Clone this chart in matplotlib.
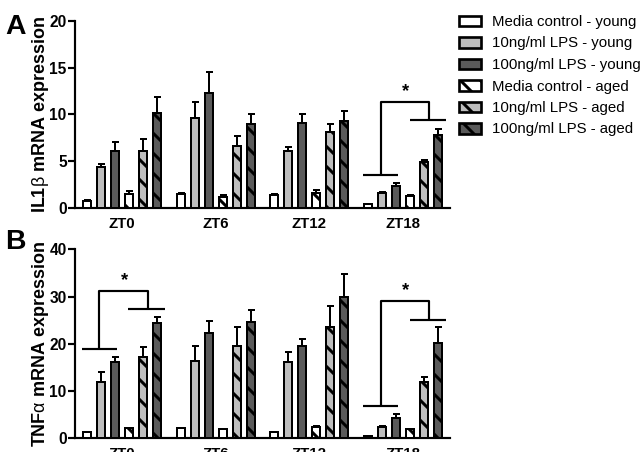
import matplotlib
matplotlib.use("Agg")
import matplotlib.pyplot as plt
import numpy as np

plt.rcParams['font.family'] = ['Liberation Sans', 'DejaVu Sans']
plt.rcParams['mathtext.fontset'] = 'custom'
plt.rcParams['mathtext.rm'] = 'Liberation Sans'
plt.rcParams['hatch.linewidth'] = 1.8
plt.rcParams['hatch.color'] = 'black'

groups = ['ZT0', 'ZT6', 'ZT12', 'ZT18']
series = ['Media control - young', '10ng/ml LPS - young', '100ng/ml LPS - young',
          'Media control - aged', '10ng/ml LPS - aged', '100ng/ml LPS - aged']
colors = ['white', '#bdbdbd', '#5a5a5a', 'white', '#bdbdbd', '#5a5a5a']
hatches = [None, None, None, '\\\\', '\\\\', '\\\\']

il1b_mean = [
    [0.8, 1.55, 1.4, 0.45],
    [4.4, 9.6, 6.15, 1.67],
    [6.15, 12.3, 9.1, 2.4],
    [1.5, 1.25, 1.6, 1.35],
    [6.1, 6.6, 8.15, 4.95],
    [10.2, 9.0, 9.35, 7.8],
]
il1b_err = [
    [0.05, 0.1, 0.1, 0.05],
    [0.3, 1.7, 0.4, 0.1],
    [0.95, 2.2, 0.9, 0.27],
    [0.3, 0.15, 0.3, 0.1],
    [1.3, 1.1, 0.85, 0.25],
    [1.7, 1.05, 1.05, 0.7],
]
tnf_mean = [
    [1.3, 2.1, 1.3, 0.45],
    [11.85, 16.3, 16.15, 2.4],
    [16.15, 22.2, 19.6, 4.4],
    [2.1, 1.9, 2.4, 1.9],
    [17.2, 19.5, 23.5, 12.0],
    [24.5, 24.7, 29.8, 20.1],
]
tnf_err = [
    [0.1, 0.1, 0.1, 0.05],
    [2.25, 3.2, 2.05, 0.1],
    [1.15, 2.7, 1.4, 0.7],
    [0.1, 0.1, 0.1, 0.1],
    [2.1, 4.0, 4.6, 1.05],
    [1.2, 2.5, 5.0, 3.5],
]
# significance brackets: (group index, low bar y, top y, right drop y, star y)
il1b_sig = [(3, 3.6, 11.3, 9.4, 12.4)]
tnf_sig = [(0, 18.9, 31.2, 27.3, 33.3), (3, 6.84, 29.0, 25.1, 31.2)]

DPI = 120
fig = plt.figure(figsize=(644 / DPI, 452 / DPI), dpi=DPI)
axA = fig.add_axes([75 / 644, 1 - 208.3 / 452, 375 / 644, 187.6 / 452])
axB = fig.add_axes([75 / 644, 1 - 438.3 / 452, 375 / 644, 189.0 / 452])

pitch = 0.149
width = 0.085
x = np.arange(len(groups))


def draw(ax, means, errs, sigs, ymax, yticks, ylabel):
    handles = []
    for i in range(len(series)):
        pos = x + (i - 2.5) * pitch
        ax.errorbar(pos, means[i], yerr=[np.zeros(len(groups)), errs[i]], fmt='none',
                    ecolor='black', elinewidth=1.2, capsize=2.1, capthick=1.2, zorder=2)
        b = ax.bar(pos, means[i], width=width, color=colors[i], edgecolor='black',
                   linewidth=1.2, hatch=hatches[i], zorder=3, label=series[i])
        handles.append(b)
    for g, low, top, drop, sy in sigs:
        c = x[g]
        kw = dict(color='black', lw=1.3, solid_capstyle='butt', clip_on=False)
        ax.plot([c - 0.43, c - 0.05], [low, low], **kw)
        ax.plot([c - 0.24, c - 0.24, c + 0.277, c + 0.277], [low, top, top, drop], **kw)
        ax.plot([c + 0.07, c + 0.455], [drop, drop], **kw)
        ax.text(c + 0.025, sy, '*', ha='center', va='center', fontsize=11, fontweight='bold')
    ax.set_xlim(-0.5, 3.5)
    ax.set_ylim(0, ymax)
    ax.set_yticks(yticks)
    ax.set_xticks(x)
    ax.set_xticklabels(groups, fontweight='bold', fontsize=9)
    ax.tick_params(axis='x', length=0, pad=5)
    ax.tick_params(axis='y', length=4, width=1.3, direction='out', pad=1, labelsize=9.3)
    for lab in ax.get_yticklabels():
        lab.set_fontweight('bold')
    for s in ['top', 'right']:
        ax.spines[s].set_visible(False)
    for s in ['left', 'bottom']:
        ax.spines[s].set_linewidth(1.3)
    ax.set_ylabel(ylabel, fontsize=10.8, fontweight='bold', labelpad=-1)
    return handles


hA = draw(axA, il1b_mean, il1b_err, il1b_sig, 20, [0, 5, 10, 15, 20],
          r'IL1$\mathrm{\beta}$ mRNA expression')
draw(axB, tnf_mean, tnf_err, tnf_sig, 40, [0, 10, 20, 30, 40],
     r'TNF$\mathrm{\alpha}$ mRNA expression')

fig.text(5 / 644, 1 - 34 / 452, 'A', fontsize=17, fontweight='bold', ha='left', va='baseline')
fig.text(5 / 644, 1 - 249 / 452, 'B', fontsize=17, fontweight='bold', ha='left', va='baseline')

leg = fig.legend(handles=hA, labels=series, loc='upper left',
                 bbox_to_anchor=(459 / 644, 1 - 15 / 452), frameon=False,
                 fontsize=9.0, handlelength=1.45, handleheight=0.7, handletextpad=0.75,
                 labelspacing=0.5, borderpad=0, borderaxespad=0)
for p in leg.get_patches():
    p.set_linewidth(1.6)

fig.savefig('out.png', dpi=DPI)
